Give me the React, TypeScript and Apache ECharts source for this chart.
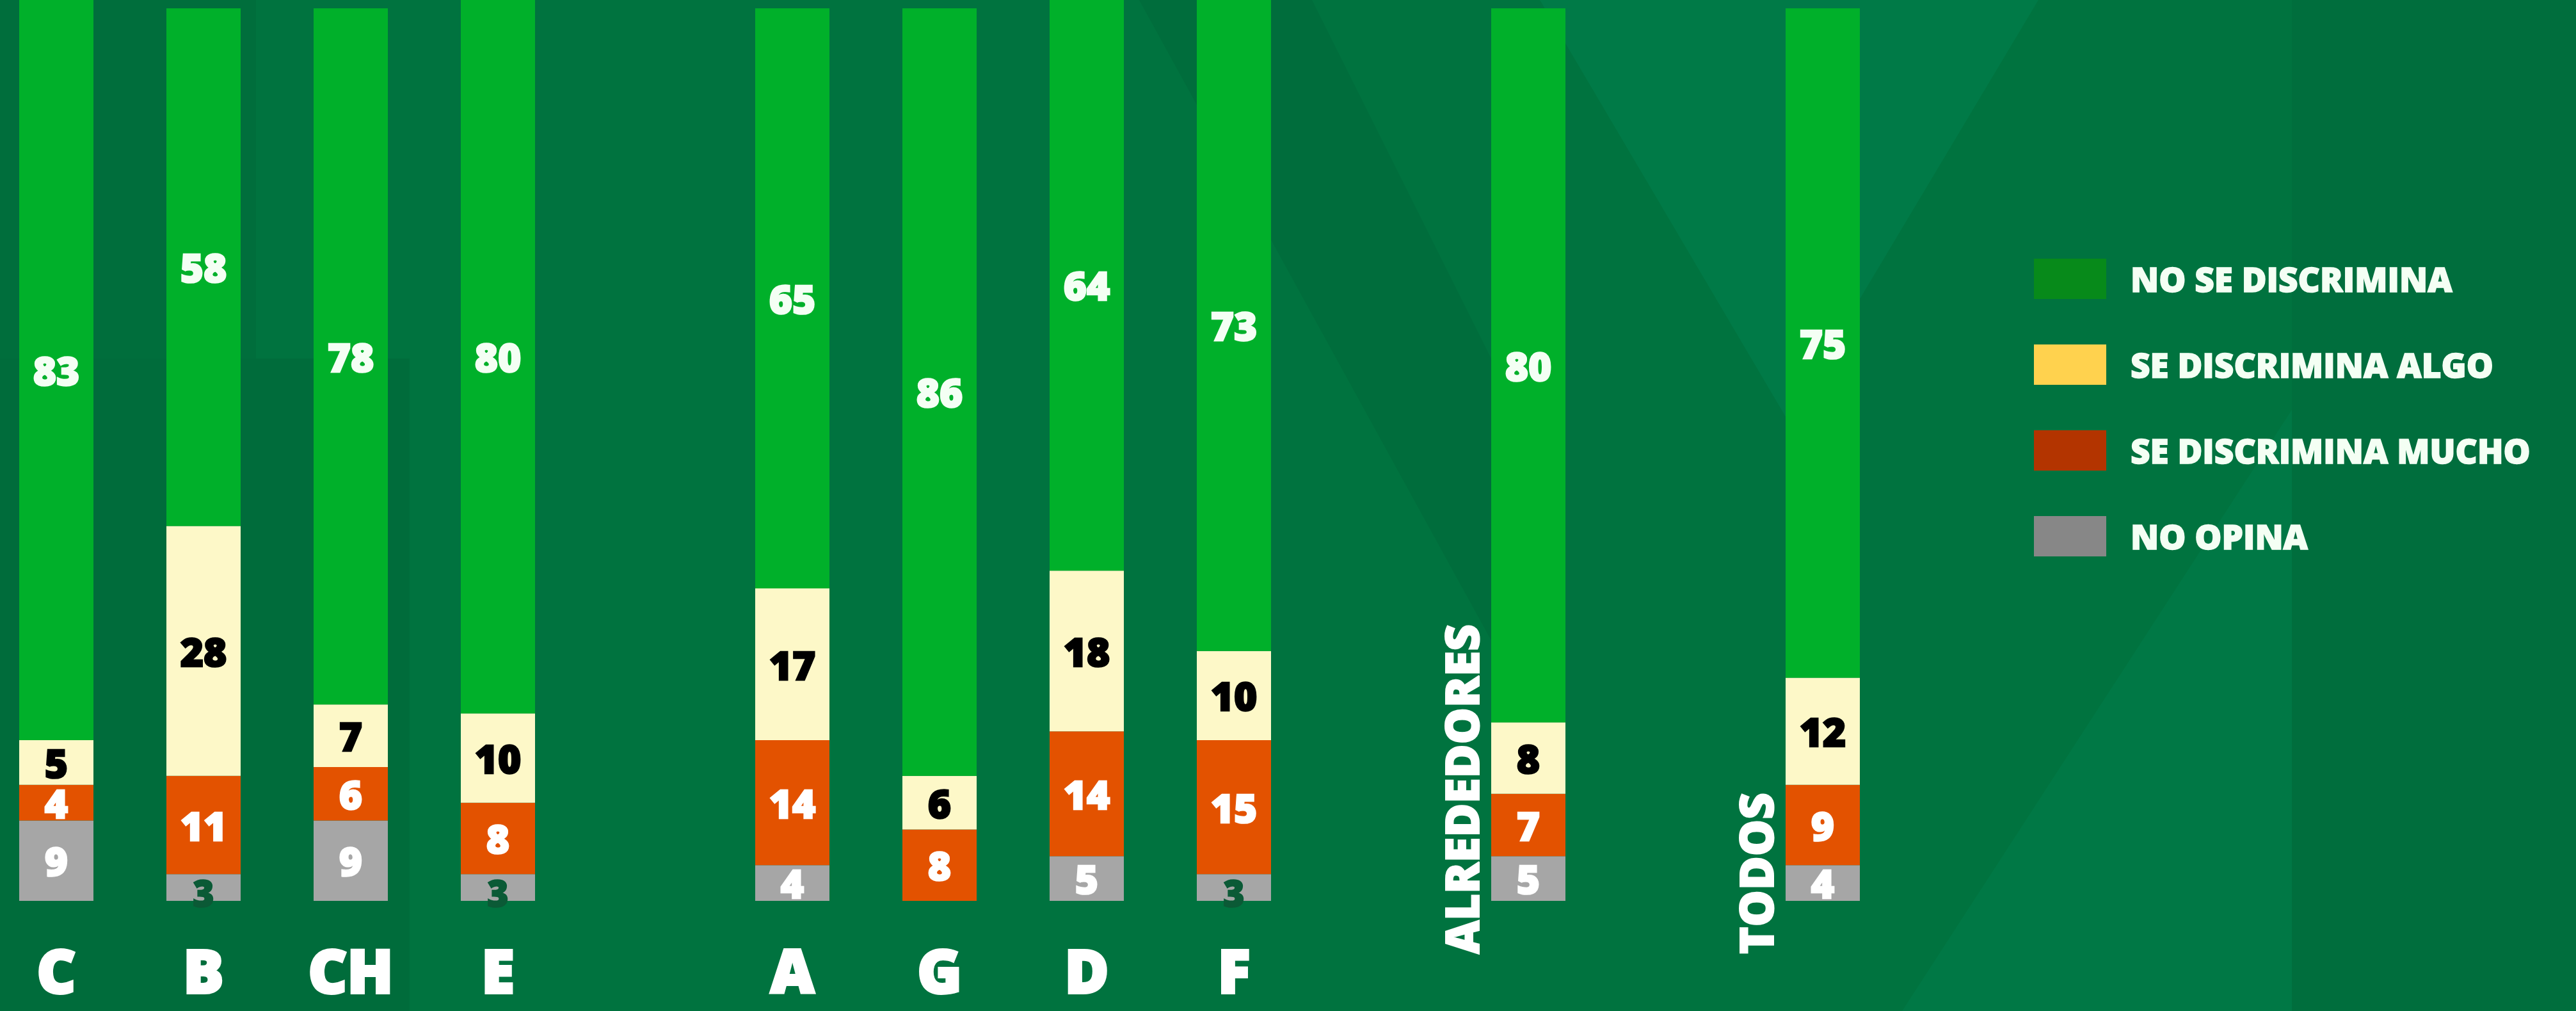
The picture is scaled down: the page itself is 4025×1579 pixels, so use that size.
import React, { useEffect, useRef } from "react";
import * as echarts from "echarts";

const categories = ["C", "B", "CH", "E", "gap1", "A", "G", "D", "F", "gap2", "ALREDEDORES", "gap3", "TODOS"];
const verticalLabels = ["ALREDEDORES", "TODOS"];
const noDiscrimina = [83, 58, 78, 80, null, 65, 86, 64, 73, null, 80, null, 75];
const discriminaAlgo = [5, 28, 7, 10, null, 17, 6, 18, 10, null, 8, null, 12];
const discriminaMucho = [4, 11, 6, 8, null, 14, 8, 14, 15, null, 7, null, 9];
const noOpina = [9, 3, 9, 3, null, 4, 0, 5, 3, null, 5, null, 4];

const seriesNames = ["NO SE DISCRIMINA", "SE DISCRIMINA ALGO", "SE DISCRIMINA MUCHO", "NO OPINA"];
const barColors = ["#00b02a", "#fdf8c8", "#e35200", "#a6a6a6"];
const legendColors = ["#078a1a", "#ffd24e", "#b33400", "#878787"];
const labelColors = ["#f4fff4", "#000000", "#ffffff", "#ffffff"];

const FONT = "'Open Sans', 'DejaVu Sans', sans-serif";

export default function App() {
  const ref = useRef<HTMLDivElement>(null);

  useEffect(() => {
    if (!ref.current) return;
    const chart = echarts.init(ref.current, null, { renderer: "svg" });

    const makeLabel = (i: number) => ({
      show: true,
      position: "inside",
      fontFamily: FONT,
      fontWeight: 800,
      fontSize: 62,
      lineHeight: 40,
      color: labelColors[i],
      textBorderColor: labelColors[i],
      textBorderWidth: 2.5,
      formatter: (p: any) => (p.value ? String(p.value) : ""),
    });

    const stackOrder = [
      { idx: 3, data: noOpina },
      { idx: 2, data: discriminaMucho },
      { idx: 1, data: discriminaAlgo },
      { idx: 0, data: noDiscrimina },
    ];

    const series = stackOrder.map(({ idx, data }) => ({
      name: seriesNames[idx],
      type: "bar",
      stack: "total",
      barWidth: 116,
      clip: false,
      itemStyle: { color: barColors[idx] },
      label: makeLabel(idx),
      data: data.map((v) =>
        idx === 3 && v === 3
          ? {
              value: v,
              label: { color: "#0b5a36", textBorderColor: "#0b5a36", fontSize: 56, lineHeight: 30, offset: [0, 8] },
            }
          : v
      ),
    }));

    const option: any = {
      animation: false,
      backgroundColor: "#00733f",
      grid: { left: 88, right: 4025 - 2848, top: 13, bottom: 1579 - 1407 },
      xAxis: {
        type: "category",
        data: categories,
        boundaryGap: false,
        axisLine: { show: false },
        axisTick: { show: false },
        splitLine: { show: false },
        axisLabel: {
          interval: 0,
          margin: 108,
          verticalAlign: "middle",
          color: "#ffffff",
          fontFamily: FONT,
          fontWeight: 900,
          fontSize: 94,
          lineHeight: 72,
          textBorderColor: "#ffffff",
          textBorderWidth: 4,
          formatter: (v: string) => (v.startsWith("gap") || verticalLabels.includes(v) ? "" : v),
        },
      },
      yAxis: {
        type: "value",
        min: 0,
        max: 100,
        show: false,
        splitLine: { show: false },
      },
      legend: {
        orient: "vertical",
        left: 3178,
        top: 404,
        padding: 0,
        icon: "rect",
        itemWidth: 113,
        itemHeight: 63,
        itemGap: 71,
        selectedMode: false,
        textStyle: {
          color: "#f4fff4",
          fontFamily: FONT,
          fontWeight: 800,
          fontSize: 53,
          textBorderColor: "#f4fff4",
          textBorderWidth: 1.5,
          padding: [0, 0, 0, 33],
        },
        data: seriesNames.map((n, i) => ({ name: n, itemStyle: { color: legendColors[i] } })),
      },
      graphic: [
        { type: "polygon", z: -10, silent: true, shape: { points: [[2406, 0], [3185, 0], [2793, 656]] }, style: { fill: "#007a47" } },
        { type: "polygon", z: -10, silent: true, shape: { points: [[0, 0], [400, 0], [400, 1579], [0, 1579]] }, style: { fill: "#006e3c" } },
        { type: "polygon", z: -10, silent: true, shape: { points: [[0, 560], [640, 560], [640, 1579], [0, 1579]] }, style: { fill: "#006c3b" } },
        { type: "polygon", z: -10, silent: true, shape: { points: [[2972, 1579], [3581, 640], [3581, 1579]] }, style: { fill: "#007845" } },
        { type: "polygon", z: -10, silent: true, shape: { points: [[3581, 0], [4025, 0], [4025, 1579], [3581, 1579]] }, style: { fill: "#006e3d" } },
        { type: "polygon", z: -10, silent: true, shape: { points: [[1780, 0], [2050, 0], [2330, 560], [2330, 1000]] }, style: { fill: "#006d3c" } },
      ],
      series,
    };

    chart.setOption(option);

    const extra: any[] = verticalLabels.map((name) => {
      const idx = categories.indexOf(name);
      const pt = chart.convertToPixel({ xAxisIndex: 0, yAxisIndex: 0 }, [idx, 0]) as number[];
      return {
        type: "text",
        x: pt[0] - 105,
        y: pt[1] + 83,
        rotation: Math.PI / 2,
        z: 10,
        style: {
          text: name,
          fill: "#ffffff",
          stroke: "#ffffff",
          lineWidth: 2,
          fontFamily: FONT,
          fontWeight: 800,
          fontSize: 72,
          lineHeight: 56,
          textAlign: "left",
          textVerticalAlign: "middle",
        },
      };
    });
    chart.setOption({ graphic: [...option.graphic, ...extra] }, { replaceMerge: ["graphic"] });

    return () => chart.dispose();
  }, []);

  return (
    <div
      ref={ref}
      style={{ position: "fixed", left: 0, top: 0, width: 4025, height: 1579 }}
    />
  );
}
